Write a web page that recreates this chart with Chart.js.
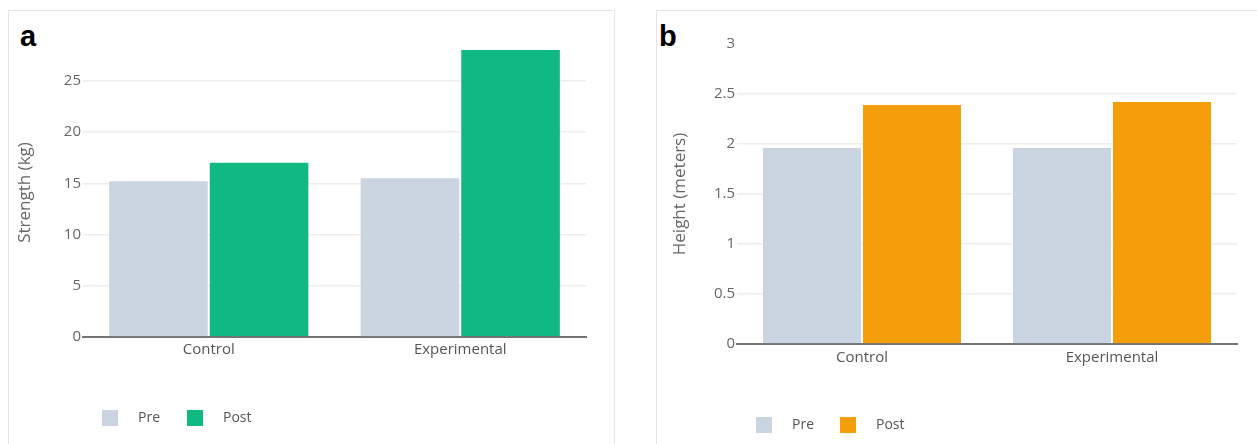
<!DOCTYPE html>
<html>
<head>
<meta charset="utf-8">
<script src="https://cdn.jsdelivr.net/npm/chart.js@4/dist/chart.umd.min.js"></script>
<style>
  html, body { margin: 0; padding: 0; background: #fff; }
  body { width: 1257px; height: 444px; position: relative; overflow: hidden; font-family: "Open Sans", sans-serif; }
  .panel { position: absolute; top: 10px; height: 440px; border: 1px solid #e6e6e6; border-bottom: none; box-sizing: border-box; }
  .tag { position: absolute; top: 20px; font: bold 29px "Liberation Sans", Arial, sans-serif; color: #000; }
  canvas { position: absolute; top: 0; }
</style>
</head>
<body>
<div class="panel" style="left:8px;width:607px"></div>
<div class="panel" style="left:656px;width:620px"></div>
<div class="tag" style="left:20px">a</div>
<div class="tag" style="left:659px">b</div>
<div style="position:absolute;left:0;top:0;width:614px;height:444px"><canvas id="chartA"></canvas></div>
<div style="position:absolute;left:640px;top:0;width:617px;height:444px"><canvas id="chartB"></canvas></div>
<script>
// groups and values
const groups = ['Control', 'Experimental'];
const seriesNames = ['Pre', 'Post'];
const strengthPre  = [15.3, 15.6];
const strengthPost = [17.1, 28.1];
const heightPre  = [1.97, 1.97];
const heightPost = [2.40, 2.43];
const strengthTicks = [0, 5, 10, 15, 20, 25];
const heightTicks = [0, 0.5, 1, 1.5, 2, 2.5, 3];

const PRE_C   = '#cbd5e1';
const GREEN_C = '#10b981';
const AMBER_C = '#f59e0b';
const FONT = '"Open Sans", sans-serif';

// legend swatch: 16px square with blank room after it
function swatch(color) {
  const c = document.createElement('canvas');
  c.width = 29; c.height = 16;
  const g = c.getContext('2d');
  g.fillStyle = color;
  g.fillRect(0, 0, 16, 16);
  return c;
}

// legend sits left-aligned a little right of the axis, not at the canvas edge
const legendShift = {
  id: 'legendShift',
  beforeDraw(chart, args, opts) {
    if (chart.legend && opts.left != null) chart.legend.left = opts.left;
  },
};

function makeChart(id, cfg) {
  const swatches = [swatch(PRE_C), swatch(cfg.postColor)];
  return new Chart(document.getElementById(id), {
    type: 'bar',
    plugins: [legendShift],
    data: {
      labels: groups,
      datasets: [
        { label: seriesNames[0], data: cfg.pre,  backgroundColor: PRE_C,
          borderColor: 'rgba(255,255,255,.3)', borderWidth: 1 },
        { label: seriesNames[1], data: cfg.post, backgroundColor: cfg.postColor,
          borderColor: 'rgba(255,255,255,.3)', borderWidth: 1 },
      ],
    },
    options: {
      responsive: true,
      maintainAspectRatio: false,
      animation: false,
      layout: { padding: cfg.padding },
      datasets: { bar: { categoryPercentage: 0.8, barPercentage: 1.0 } },
      scales: {
        x: {
          grid: { display: false, drawTicks: false },
          border: { color: '#747474', width: 2 },
          ticks: { color: '#555', padding: cfg.xPad, font: { family: FONT, size: 15 } },
          afterFit: s => { s.height = cfg.xHeight; },
        },
        y: {
          min: 0,
          max: cfg.max,
          afterBuildTicks: s => { s.ticks = cfg.ticks.map(v => ({ value: v })); },
          grid: {
            drawTicks: false,
            color: c => (c.tick && c.tick.value === 3) ? 'rgba(0,0,0,0)' : '#ededed',
            lineWidth: 1.5,
          },
          border: { display: false },
          ticks: {
            color: '#666', padding: 2, font: { family: FONT, size: 15 },
            callback: v => String(v),
          },
          title: {
            display: true, text: cfg.title, color: '#666',
            font: { family: FONT, size: 17 },
            padding: { top: cfg.titlePad, bottom: 0 },
          },
          afterFit: s => { s.width = cfg.yWidth; },
        },
      },
      plugins: {
        legendShift: { left: cfg.legendLeft },
        legend: {
          position: 'bottom',
          align: 'start',
          labels: {
            usePointStyle: true,
            pointStyleWidth: 29,
            padding: cfg.legendPad,
            color: '#555',
            font: { family: FONT, size: 14 },
            generateLabels: chart =>
              Chart.defaults.plugins.legend.labels.generateLabels(chart)
                .map((it, i) => ({ ...it, pointStyle: swatches[i] })),
          },
        },
        tooltip: { enabled: false },
      },
    },
  });
}

makeChart('chartA', {
  pre: strengthPre, post: strengthPost, postColor: GREEN_C,
  ticks: strengthTicks, max: 28.2, title: 'Strength (kg)',
  padding: { left: 0, right: 28, top: 48, bottom: 9 },
  yWidth: 83, xHeight: 47, xPad: 4, legendPad: 27, legendLeft: 75, titlePad: 14.8,
});

makeChart('chartB', {
  pre: heightPre, post: heightPost, postColor: AMBER_C,
  ticks: heightTicks, max: 3, title: 'Height (meters)',
  padding: { left: 0, right: 20, top: 44, bottom: 2 },
  yWidth: 97, xHeight: 48, xPad: 5, legendPad: 26, legendLeft: 90, titlePad: 29.8,
});
</script>
</body>
</html>
